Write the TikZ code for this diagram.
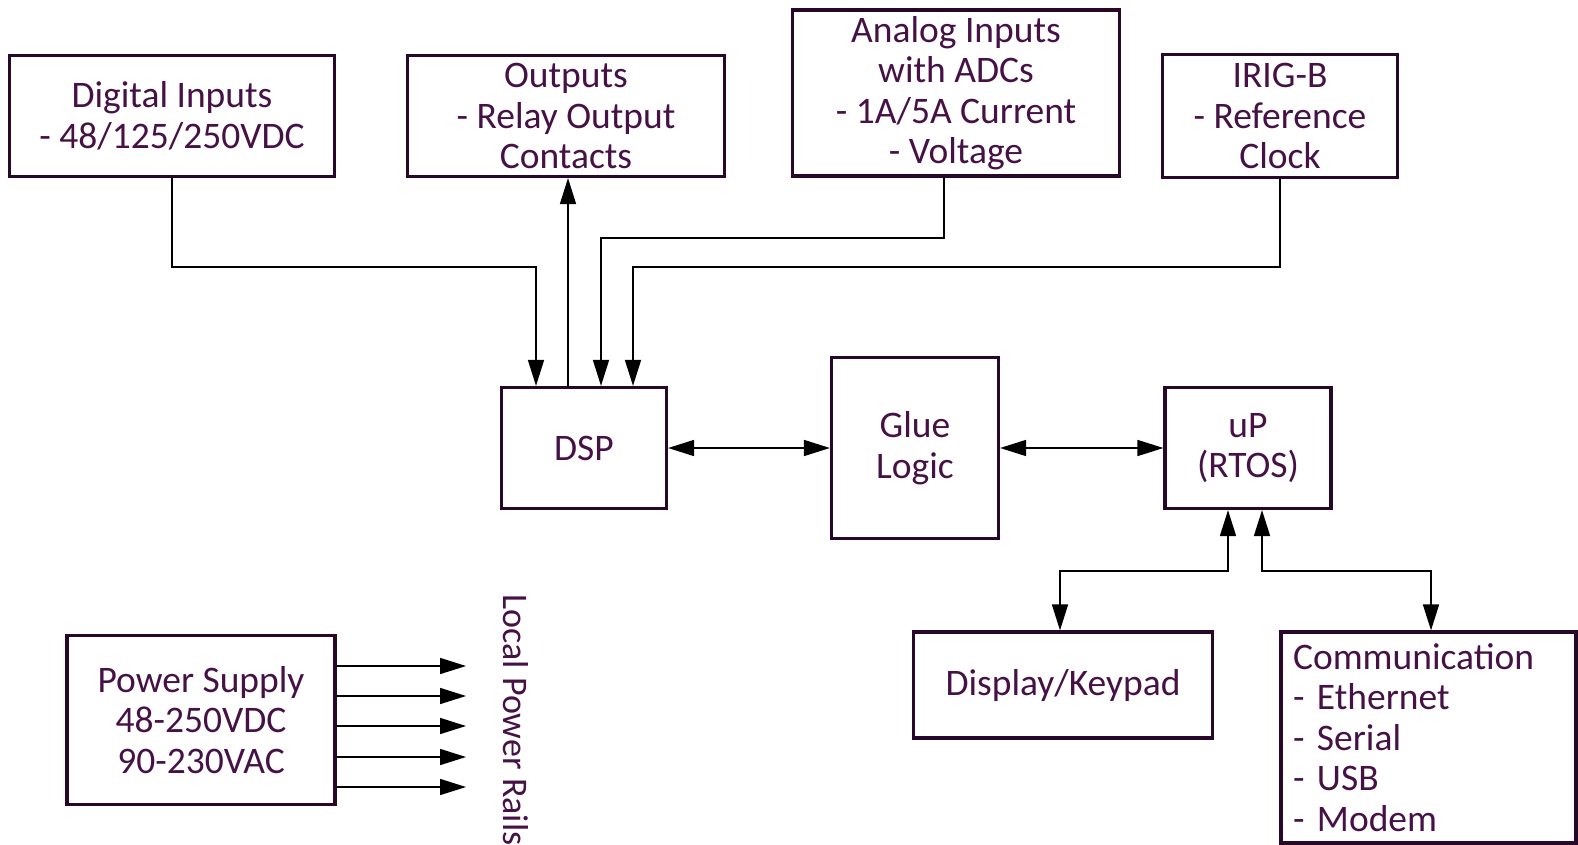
\documentclass[tikz,border=0pt]{standalone}
\usepackage{fontspec}
\setmainfont{Carlito}
\usetikzlibrary{arrows.meta}
\definecolor{boxc}{RGB}{40,8,40}
\definecolor{txtc}{RGB}{70,18,70}
\begin{document}
\begin{tikzpicture}[x=1pt,y=-1pt,
 blk/.style={draw=boxc, line width=3.2pt, inner sep=0pt, align=center, text=txtc, font=\fontsize{37.5}{40.5}\selectfont},
 conn/.style={line width=1.6pt, -{Triangle[length=26pt,width=16pt]}},
 conn2/.style={line width=1.6pt, {Triangle[length=26pt,width=16pt]}-{Triangle[length=26pt,width=16pt]}}]
\path[use as bounding box] (0,0) rectangle (1578,845);
\node[blk, minimum width=325pt, minimum height=121pt] (dig) at (172,116) {Digital Inputs\\- 48/125/250VDC};
\node[blk, minimum width=317pt, minimum height=121pt] (out) at (566,116) {Outputs\\- Relay Output\\Contacts};
\node[blk, minimum width=327pt, minimum height=166pt] (ana) at (956,93) {Analog Inputs\\with ADCs\\- 1A/5A Current\\- Voltage};
\node[blk, minimum width=235pt, minimum height=123pt] (irig) at (1280,116) {IRIG-B\\- Reference\\Clock};
\node[blk, minimum width=165pt, minimum height=121pt] (dsp) at (584,448) {DSP};
\node[blk, minimum width=167pt, minimum height=181pt] (glue) at (915,448) {Glue\\Logic};
\node[blk, minimum width=166pt, minimum height=121pt] (up) at (1248,448) {uP\\(RTOS)};
\node[blk, minimum width=299pt, minimum height=106pt] (disp) at (1063,685) {Display/Keypad};
\node[blk, minimum width=295pt, minimum height=211pt, text width=271pt, inner xsep=12pt, align=left] (comm) at (1428.5,737.5) {Communication\\- Ethernet\\- Serial\\- USB\\- Modem};
\node[blk, minimum width=268pt, minimum height=169pt] (ps) at (201,720) {Power Supply\\48-250VDC\\90-230VAC};
\node[text=txtc, font=\fontsize{36}{40.5}\selectfont, rotate=-90, inner sep=0pt] (rails) at (516,720) {Local Power Rails};

\coordinate (d1) at (536,267);
\coordinate (a1) at (601,238);
\coordinate (i1) at (633,267);
\draw[conn] (dig.south) |- (d1) -- (d1 |- dsp.north);
\draw[conn] ([xshift=-16pt]dsp.north) -- ([xshift=-16pt]dsp.north |- out.south);
\draw[conn] ([xshift=-12pt]ana.south) |- (a1) -- (a1 |- dsp.north);
\draw[conn] (irig.south) |- (i1) -- (i1 |- dsp.north);
\draw[conn2] (dsp.east) -- (glue.west);
\draw[conn2] (glue.east) -- (up.west);
\coordinate (u1) at (1060,571);
\coordinate (u2) at (1431,571);
\draw[conn2] ([xshift=-20pt]up.south) |- (u1) -- (u1 |- disp.north);
\draw[conn2] ([xshift=14pt]up.south) |- (u2) -- (u2 |- comm.north);
\foreach \y [count=\i] in {666,696,726,757,787} {
  \coordinate (r\i) at (466,\y);
  \draw[conn] (ps.east |- r\i) -- (r\i);
}
\end{tikzpicture}
\end{document}
